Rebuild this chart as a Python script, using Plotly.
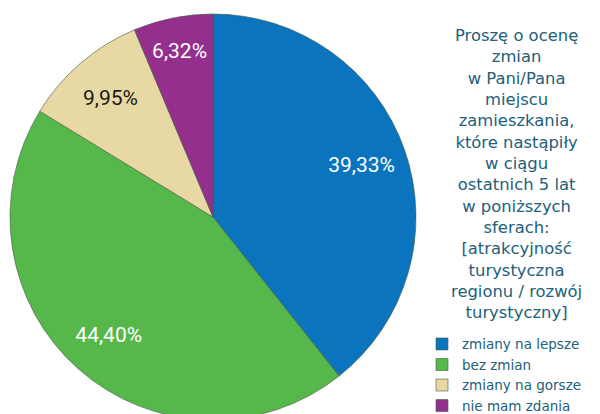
import plotly.graph_objects as go

categories = ["zmiany na lepsze", "bez zmian", "zmiany na gorsze", "nie mam zdania"]
values = [39.33, 44.40, 9.95, 6.32]
colors = ["#0A74BE", "#56B84B", "#E8D8A4", "#952F8E"]
text_colors = ["white", "white", "#1a1a1a", "white"]
legend_title = ("Proszę o ocenę<br>zmian<br>w Pani/Pana<br>miejscu<br>zamieszkania,<br>"
                "które nastąpiły<br>w ciągu<br>ostatnich 5 lat<br>w poniższych<br>sferach:<br>"
                "[atrakcyjność<br>turystyczna<br>regionu / rozwój<br>turystyczny]")

domain = dict(x=[0.0033, 0.68], y=[0, 1])

# Filled pie (slices + legend)
fig = go.Figure(go.Pie(
    labels=categories,
    values=values,
    sort=False,
    direction="clockwise",
    rotation=0,
    marker=dict(colors=colors, line=dict(color="rgba(70,90,70,0.6)", width=1)),
    textinfo="none",
    domain=domain,
    hoverinfo="label+percent",
    showlegend=True,
))

# Transparent ring carrying the value labels (places them further out)
fig.add_trace(go.Pie(
    labels=categories,
    values=values,
    sort=False,
    direction="clockwise",
    rotation=0,
    hole=0.55,
    marker=dict(colors=["rgba(0,0,0,0)"] * len(values), line=dict(width=0)),
    texttemplate="%{value:.2f}%",
    textposition="inside",
    insidetextorientation="horizontal",
    insidetextfont=dict(family="Roboto", size=21, color=text_colors),
    domain=domain,
    hoverinfo="skip",
    showlegend=False,
))

fig.update_layout(
    width=600, height=414,
    margin=dict(l=0, r=0, t=6, b=2, autoexpand=False),
    separators=", ",
    paper_bgcolor="white",
    plot_bgcolor="white",
    showlegend=True,
    legend=dict(
        x=0.69, xanchor="left", y=0.225, yanchor="top",
        maxheight=600,
        font=dict(family="DejaVu Sans", size=13.5, color="#23607A"),
        bgcolor="rgba(0,0,0,0)",
        tracegroupgap=0,
        itemwidth=30,
    ),
    annotations=[dict(
        text=legend_title, xref="paper", yref="paper",
        x=0.848, y=0.975, xanchor="center", yanchor="top",
        align="center", showarrow=False,
        font=dict(family="DejaVu Sans", size=16.4, color="#23607A"),
    )],
)

fig.write_html("out.html")
